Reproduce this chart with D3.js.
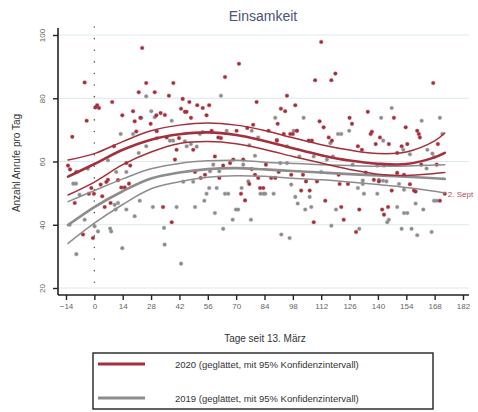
<!DOCTYPE html>
<html>
<head>
<meta charset="utf-8">
<script src="https://cdn.jsdelivr.net/npm/d3@7"></script>
<style>
  html, body { margin: 0; padding: 0; background: #fff; }
  svg { display: block; font-family: "Liberation Sans", Arial, sans-serif; }
</style>
</head>
<body>
<svg id="chart" width="478" height="412"></svg>
<script>
// Daily calls, 2020 (day counted from 13 March)
const calls2020 = [
  [-4.8,85.0],[23.6,95.9],[25.6,84.8],[21.9,81.9],[29.8,81.9],[8.8,78.8],[1.4,77.8],[2.3,76.9],[0.5,77.1],
  [-3.8,72.9],[-10.9,67.8],[13.8,74.6],[19.1,75.9],[19.9,72.7],[22.7,73.8],[27.8,71.9],[32.7,75.3],[30.6,74.6],
  [34.8,74.7],[20.7,69.5],[30.8,69.6],[9.7,64.8],[15.8,59.5],[17.7,58.7],[-13,58.7],[-12,57.5],[-8.9,56.7],
  [-1.5,51.6],[3.1,52.7],[5.9,53.5],[6.7,54.2],[11.7,54.1],[13.3,51.8],[15,51.8],[17.1,53.0],[-2.7,49.8],
  [-0.2,49.8],[3.9,49.0],[-9.7,46.9],[5.1,45.6],[8.0,46.9],[-5.6,36.9],[-0.7,35.8],[33.9,45.6],
  [71.4,90.9],[64.5,86.7],[39,84.8],[36.8,80.8],[43.6,79.8],[46.9,78.8],[50.8,77.8],[53.5,76.9],[56.7,77.8],
  [42.8,76.7],[44.7,75.7],[45.5,75.7],[55.4,74.6],[47.7,73.8],[80.1,78.8],[78.4,71.6],[75.5,70.6],[57.9,69.7],
  [41.8,67.4],[35.7,67.6],[61.2,67.6],[62.5,67.4],[70.2,69.7],[48.8,63.7],[40.6,63.7],[39.8,60.6],[59.5,61.6],
  [63.6,58.7],[67,59.5],[68.6,60.6],[73.5,60.6],[49.7,56.7],[52.5,54.8],[54.6,55.8],[61.7,54.8],[77.7,57.6],
  [79.3,55.8],[80.9,54.8],[76.5,52.9],[81.8,51.6],[83.4,51.6],[72.4,49.8],[74.4,47.7],[38.2,40.8],
  [112,97.8],[109,85.7],[117,85.7],[119,87.8],[95.1,80.8],[99.2,77.8],[92.1,76.7],[94.2,75.9],[90.5,71.9],
  [111.2,72.7],[113.2,70.8],[126,73.8],[127.2,71.9],[135,75.7],[86,69.7],[93.5,68.7],[96.7,68.7],[98,68.7],
  [100,69.7],[115.7,67.6],[117.3,66.6],[105.8,66.6],[107.4,66.6],[90.1,66.6],[130.1,64.8],[132.1,63.7],
  [84.7,59.0],[91,56.7],[97.2,55.8],[103,55.8],[120.6,55.8],[87.3,54.8],[89.3,54.8],[104.5,53.7],[109.9,53.7],
  [121.1,52.9],[125.2,52.9],[102.1,50.8],[106.3,50.8],[114,47.6],[121.9,45.6],[130.8,44.8],[123.1,41.6],
  [108.3,40.8],[129.2,37.7],[134,56.5],
  [167.3,84.8],[147.9,73.8],[153.7,70.8],[137,69.4],[136.4,68.7],[141,67.6],[159.4,69.7],[160.2,68.7],
  [160.7,67.6],[145.4,65.5],[138.9,65.5],[151.7,64.8],[154.5,65.5],[169.6,65.5],[149.5,62.7],[161.4,59.0],
  [169,59.0],[149.5,56.4],[152.9,55.8],[138,54.2],[140.5,53.7],[146.8,50.8],[157.8,50.8],[158.6,50.5],
  [155.8,52.8],[173,49.8],[170.6,47.6],[142.1,44.8],[143,43.2],[145,45.6]
];

// Daily calls, 2019 (same calendar days)
const calls2019 = [
  [25.6,80.6],[28.1,75.9],[23.2,73.8],[13,68.7],[19.1,68.7],[29.8,74.0],[21.9,62.7],[25.6,64.8],[6.7,60.4],
  [-3.2,57.7],[-10.4,53.0],[-9.1,53.0],[10.8,56.7],[15.8,56.7],[-7.3,49.5],[10,46.3],[11.7,46.9],[10.5,44.8],
  [15.8,44.8],[22.4,47.6],[19.9,42.7],[28.9,45.6],[-12.2,40.0],[1.8,37.9],[7.8,38.8],[8.3,37.9],[0.1,39.5],
  [-8.9,30.7],[13.8,32.6],[-4.8,41.6],[34.4,39.0],[34.7,33.7],[30.8,67.3],[50.5,64.7],[43.9,53.6],[48.8,53.6],
  [62.5,80.8],[38.2,72.9],[37.3,66.6],[38.9,66.6],[44.7,66.4],[45.6,64.8],[47.7,65.5],[52.1,68.7],[53.5,69.3],
  [65.3,69.7],[77.7,69.7],[80.9,67.6],[76.5,65.1],[58.7,59.0],[61.7,56.9],[57.1,56.9],[79.3,61.8],[73.5,59.0],
  [76,53.7],[56.7,51.6],[60.4,51.6],[64.5,49.8],[66.1,49.8],[55.4,49.8],[54.3,47.6],[72.7,51.6],[40.6,45.6],
  [49.7,45.6],[59.5,43.7],[69.9,44.8],[71,44.8],[68.3,41.6],[77.3,41.6],[63.6,38.7],[42.8,27.7],[82,49.8],
  [83.5,49.8],
  [89.3,73.8],[103.3,73.8],[98.4,69.7],[100,69.7],[120.3,68.7],[121.9,68.7],[125.8,69.7],[90.1,66.9],
  [116.5,65.8],[95.1,64.8],[101.2,61.6],[117.8,61.6],[108.3,61.6],[114.8,60.6],[91.8,59.5],[95.1,59.5],
  [112,56.7],[127.5,59.0],[132.5,54.0],[132.5,52.9],[88.5,49.8],[84.4,49.8],[97.2,52.7],[130.1,51.6],
  [99.2,48.8],[100.4,46.7],[106.3,48.8],[107.1,45.6],[104.1,44.8],[119.3,44.8],[117,39.7],[92.3,36.9],
  [96.4,35.8],[130.8,38.7],
  [146.8,76.9],[141.6,73.8],[161.6,72.9],[170.6,73.8],[171.8,68.7],[142.6,66.6],[164.4,63.7],[166.9,62.5],
  [167.7,61.4],[152.5,63.7],[155.8,62.3],[139.7,58.7],[143,58.7],[140.5,54.2],[142.5,53.9],[144.2,53.7],
  [150.4,52.9],[133.1,49.8],[139.7,49.8],[152.9,51.1],[167.7,47.6],[169,47.6],[149.5,45.6],[158.6,46.7],
  [162.4,44.8],[152.9,43.7],[154.5,43.7],[145.4,41.6],[144.6,40.8],[151.7,38.7],[156.6,38.7],[159.4,36.7],
  [166.5,37.7],[164,57.8]
];

// Smoothed fits with 95% confidence band
const fitDays = [-13, 0, 14, 28, 42, 56, 70, 84, 98, 112, 126, 140, 154, 168, 173];
const fit2020 = [55.2, 59.2, 63.7, 66.9, 68.6, 69.2, 68.4, 66.5, 64.2, 62.0, 60.3, 59.3, 59.2, 61.3, 62.7];
const hi2020  = [60.5, 62.5, 66.3, 69.7, 71.5, 72.2, 71.5, 69.8, 67.5, 65.3, 63.6, 62.5, 63.0, 66.5, 69.0];
const lo2020  = [49.4, 53.5, 59.0, 63.0, 65.7, 66.3, 65.6, 63.8, 61.6, 59.5, 57.5, 56.0, 55.6, 56.2, 56.5];
const fit2019 = [39.9, 45.6, 50.6, 54.6, 56.5, 57.6, 57.9, 57.5, 57.0, 56.5, 56.0, 55.6, 55.2, 54.7, 54.5];
const hi2019  = [47.3, 50.8, 54.5, 57.7, 59.4, 60.2, 60.4, 59.8, 59.4, 59.0, 58.7, 58.5, 58.6, 58.9, 59.0];
const lo2019  = [34.1, 40.5, 46.4, 51.4, 53.6, 55.0, 55.5, 55.3, 54.7, 54.2, 53.5, 52.7, 51.8, 50.6, 50.0];

const xTicks = [-14, 0, 14, 28, 42, 56, 70, 84, 98, 112, 126, 140, 154, 168, 182];
const yTicks = [20, 40, 60, 80, 100];
const legendLabels = ["2020 (geglättet, mit 95% Konfidenzintervall)", "2019 (geglättet, mit 95% Konfidenzintervall)"];
const lastDay = [173, 49.8];

const RED = "#a3303a";
const GRAY = "#8d8d8d";

const svg = d3.select("#chart");
const x = d3.scaleLinear().domain([-14, 182]).range([66, 463]);
const y = d3.scaleLinear().domain([20, 100]).range([288, 35]);

// gridlines
svg.append("g").selectAll("line").data(yTicks).join("line")
  .attr("x1", 58).attr("x2", 469)
  .attr("y1", d => y(d)).attr("y2", d => y(d))
  .attr("stroke", "#dce9ee").attr("stroke-width", 1);

// dotted marker at day 0
svg.append("line")
  .attr("x1", x(0)).attr("x2", x(0)).attr("y1", 27).attr("y2", 292)
  .attr("stroke", "#555").attr("stroke-width", 1.5)
  .attr("stroke-linecap", "round")
  .attr("stroke-dasharray", "0.1,11.5");

// axes
const yAxis = d3.axisLeft(y).tickValues(yTicks).tickSize(5).tickPadding(4);
const gy = svg.append("g").attr("transform", "translate(58,0)").call(yAxis);
gy.select(".domain").attr("d", "M0,28V295").attr("stroke", "#222").attr("stroke-width", 1.6);
gy.selectAll(".tick line").attr("stroke", "#222").attr("stroke-width", 1.4);
gy.selectAll(".tick text")
  .attr("font-size", 8).attr("fill", "#666")
  .attr("x", 0).attr("dy", 0)
  .attr("text-anchor", "middle")
  .attr("transform", "translate(-13,0) rotate(-90)");

const xAxis = d3.axisBottom(x).tickValues(xTicks).tickSize(5).tickPadding(3);
const gx = svg.append("g").attr("transform", "translate(0,295)").call(xAxis);
gx.select(".domain").attr("d", "M58,0H469").attr("stroke", "#222").attr("stroke-width", 1.6);
gx.selectAll(".tick line").attr("stroke", "#222").attr("stroke-width", 1.4);
gx.selectAll(".tick text").attr("font-size", 8).attr("fill", "#666");

// scatter
function dots(data, color) {
  svg.append("g").selectAll("circle").data(data).join("circle")
    .attr("cx", d => x(d[0])).attr("cy", d => y(d[1])).attr("r", 1.8)
    .attr("fill", color).attr("stroke", color).attr("stroke-opacity", 0.3).attr("stroke-width", 1.2);
}
dots(calls2019, GRAY);
dots(calls2020, RED);

// smoothed lines
const line = d3.line().x(d => x(d[0])).y(d => y(d[1])).curve(d3.curveCatmullRom.alpha(0.5));
function curve(vals, color, w) {
  svg.append("path")
    .attr("d", line(fitDays.map((d, i) => [d, vals[i]])))
    .attr("fill", "none").attr("stroke", color).attr("stroke-width", w)
    .attr("stroke-linecap", "round");
}
curve(hi2019, GRAY, 1.5); curve(lo2019, GRAY, 1.5); curve(fit2019, GRAY, 2.6);
curve(hi2020, RED, 1.5); curve(lo2020, RED, 1.5); curve(fit2020, RED, 2.6);

// annotation for the last day
svg.append("text")
  .attr("x", x(lastDay[0]) + 3).attr("y", y(lastDay[1]) + 3)
  .attr("font-size", 8).attr("fill", "#b0505a")
  .text("2. Sept");

// titles
svg.append("text").attr("x", 263).attr("y", 21).attr("text-anchor", "middle")
  .attr("font-size", 14).attr("fill", "#4b5476").text("Einsamkeit");
svg.append("text").attr("transform", "translate(20,163) rotate(-90)").attr("text-anchor", "middle")
  .attr("font-size", 10).attr("fill", "#333").text("Anzahl Anrufe pro Tag");
svg.append("text").attr("x", 265).attr("y", 342).attr("text-anchor", "middle")
  .attr("font-size", 10).attr("fill", "#333").text("Tage seit 13. März");

// legend
const lg = svg.append("g");
lg.append("rect").attr("x", 93).attr("y", 353).attr("width", 340).attr("height", 56)
  .attr("fill", "#fff").attr("stroke", "#222").attr("stroke-width", 1.4);
[RED, GRAY].forEach((c, i) => {
  const yy = 364 + i * 34;
  lg.append("line").attr("x1", 98).attr("x2", 145).attr("y1", yy).attr("y2", yy)
    .attr("stroke", c).attr("stroke-width", 3);
  lg.append("text").attr("x", 175).attr("y", yy + 3.5).attr("font-size", 9.5).attr("fill", "#333")
    .text(legendLabels[i]);
});
</script>
</body>
</html>
